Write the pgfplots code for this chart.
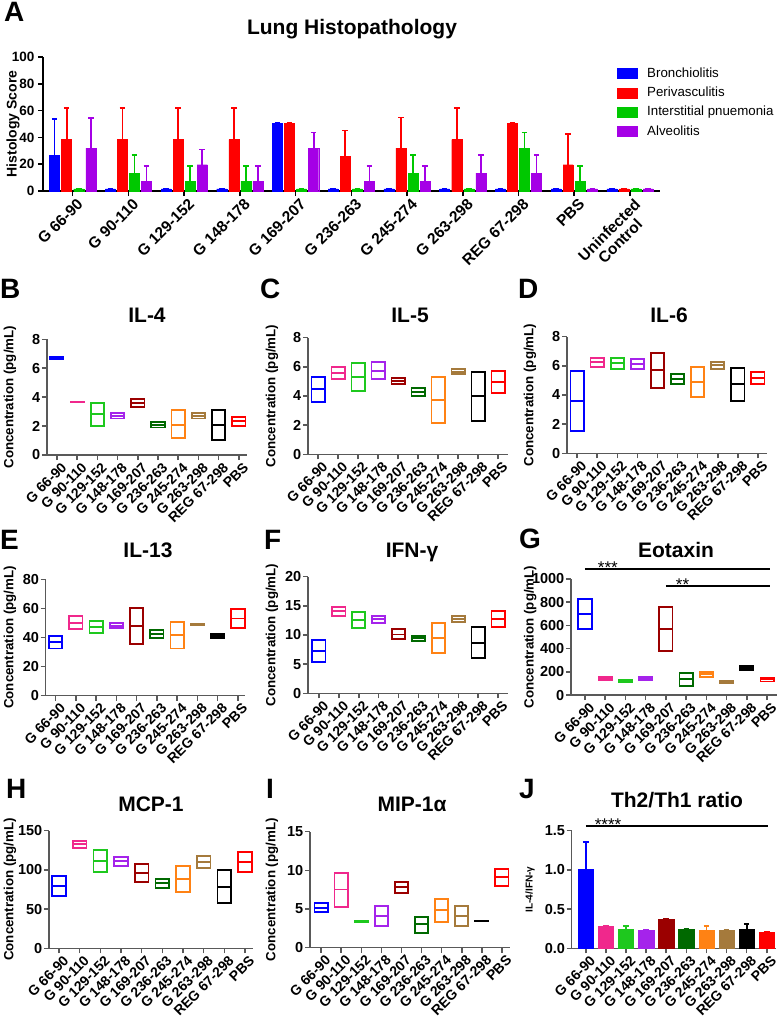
\documentclass[border=0pt]{standalone}
\usepackage{fontspec}
\setmainfont{Liberation Sans}
\usepackage{pgfplots}
\pgfplotsset{compat=1.18}

\newcommand{\fs}[1]{\fontsize{#1}{#1}\selectfont}

\definecolor{c0}{RGB}{0,0,255}
\definecolor{c1}{RGB}{240,40,140}
\definecolor{c2}{RGB}{30,200,30}
\definecolor{c3}{RGB}{165,35,235}
\definecolor{c4}{RGB}{155,0,0}
\definecolor{c5}{RGB}{0,105,0}
\definecolor{c6}{RGB}{255,130,20}
\definecolor{c7}{RGB}{165,122,60}
\definecolor{c8}{RGB}{0,0,0}
\definecolor{c9}{RGB}{255,0,0}
\definecolor{aB}{RGB}{0,0,255}
\definecolor{aP}{RGB}{255,0,0}
\definecolor{aI}{RGB}{0,200,0}
\definecolor{aA}{RGB}{165,0,230}

\pgfplotsset{
  aerr/.style={/pgfplots/error bars/y dir=plus, /pgfplots/error bars/y explicit,
    /pgfplots/error bars/error bar style={line width=1.8pt, draw=#1},
    /pgfplots/error bars/error mark options={rotate=90, line width=1.8pt, mark size=2.8pt, draw=#1}},
  sp/.style n args={6}{at={(#1pt,-#2pt)}, anchor=south west, width=#3pt, height=#4pt, xmin=#5, xmax=#6},
  cyto/.style={
    scale only axis,
    axis x line=bottom, axis y line=left,
    axis line style={-, line width=1.5pt, black!65},
    tick align=outside, major tick length=5pt,
    tick style={line width=1.5pt, black!65},
    ymin=0,
    xtick={0,...,9},
    xticklabels={G 66-90, G 90-110, G 129-152, G 148-178, G 169-207, G 236-263, G 245-274, G 263-298, REG 67-298, PBS},
    xticklabel style={xshift=3.5pt, rotate=45, anchor=north east, font=\bfseries\fs{14}, inner sep=1pt},
    yticklabel style={font=\bfseries\fs{14.5}, inner sep=1.5pt},
    /pgf/number format/assume math mode=true,
    /pgf/number format/1000 sep={},
    ylabel style={font=\bfseries\fs{13.3}, anchor=center},
    ylabel={Concentration (pg/mL)},
    clip=false,
  },
}

% floating bar (min to max, line at mean): colour, left, right, min, mean, max
\newcommand{\fb}[6]{%
  \addplot[draw=#1, line width=1.8pt, line join=miter]
    coordinates {(#2,#4) (#3,#4) (#3,#6) (#2,#6)} -- cycle;
  \addplot[draw=#1, line width=1.8pt] coordinates {(#2,#5) (#3,#5)};}

\begin{document}
\begin{tikzpicture}
\path[use as bounding box] (0pt,0pt) rectangle (779pt,-1019pt);

% ---------------- Panel A ----------------
\begin{axis}[at={(43pt,-191pt)}, anchor=south west, scale only axis,
  width=617pt, height=134pt,
  axis x line=bottom, axis y line=left,
  axis line style={-, line width=1.6pt, black},
  tick align=outside, major tick length=5pt,
  tick style={line width=1.6pt, black},
  xmin=-0.533, xmax=10.54, ymin=0, ymax=100, ytick={0,20,...,100},
  xtick={0,...,10},
  xticklabels={G 66-90, G 90-110, G 129-152, G 148-178, G 169-207, G 236-263, G 245-274, G 263-298, REG 67-298, PBS, {Uninfected\\Control}},
  xticklabel style={xshift=3.5pt, rotate=45, anchor=north east, align=center, font=\bfseries\fs{15.5}, inner sep=1pt},
  yticklabel style={font=\bfseries\fs{13.5}},
  /pgf/number format/assume math mode=true,
  ylabel={Histology Score},
  ylabel style={font=\bfseries\fs{14}, at={(axis description cs:-0.0486,0.5)}, anchor=center},
  legend image code/.code={\draw[#1, draw=none] (0pt,-5.5pt) rectangle (21pt,5.5pt);},
  legend style={at={(axis description cs:0.9303,0.925)}, anchor=north west,
    draw=none, fill=none, font=\fs{13.3}, row sep=6.3pt, inner sep=0pt,
    nodes={inner sep=0pt, text height=10pt, text depth=3pt},
    /tikz/every odd column/.append style={column sep=9pt}},
  legend cell align=left,
  clip=false]
\addplot[ybar, bar width=0.18, bar shift=0pt, fill=aB, draw=aB, aerr=aB] coordinates {
 (-0.325,26.7) +- (0,26.9) (0.675,1.5) +- (0,0) (1.675,1.5) +- (0,0) (2.675,1.5) +- (0,0)
 (3.675,50.5) +- (0,0) (4.675,1.5) +- (0,0) (5.675,1.5) +- (0,0) (6.675,1.5) +- (0,0)
 (7.675,1.5) +- (0,0) (8.675,1.5) +- (0,0) (9.675,1.5) +- (0,0)};
\addplot[ybar, bar width=0.18, bar shift=0pt, fill=aP, draw=aP, aerr=aP] coordinates {
 (-0.108,38.3) +- (0,23.7) (0.892,38.3) +- (0,23.7) (1.892,38.3) +- (0,23.7) (2.892,38.3) +- (0,23.7)
 (3.892,50.5) +- (0,0) (4.892,25.8) +- (0,19.4) (5.892,32.0) +- (0,22.8) (6.892,38.3) +- (0,23.7)
 (7.892,50.5) +- (0,0) (8.892,19.6) +- (0,22.8) (9.892,1.5) +- (0,0)};
\addplot[ybar, bar width=0.18, bar shift=0pt, fill=aI, draw=aI, aerr=aI] coordinates {
 (0.108,1.5) +- (0,0) (1.108,13.3) +- (0,13.3) (2.108,7.4) +- (0,11.5) (3.108,7.4) +- (0,11.5)
 (4.108,1.5) +- (0,0) (5.108,1.5) +- (0,0) (6.108,13.3) +- (0,13.3) (7.108,1.5) +- (0,0)
 (8.108,32.0) +- (0,11.7) (9.108,7.4) +- (0,11.5) (10.108,1.5) +- (0,0)};
\addplot[ybar, bar width=0.18, bar shift=0pt, fill=aA, draw=aA, aerr=aA] coordinates {
 (0.325,32.0) +- (0,22.6) (1.325,7.4) +- (0,11.5) (2.325,19.6) +- (0,11.4) (3.325,7.4) +- (0,11.5)
 (4.325,32.0) +- (0,11.7) (5.325,7.4) +- (0,11.5) (6.325,7.4) +- (0,11.5) (7.325,13.3) +- (0,13.3)
 (8.325,13.3) +- (0,13.3) (9.325,1.5) +- (0,0) (10.325,1.5) +- (0,0)};
\legend{Bronchiolitis, Perivasculitis, Interstitial pnuemonia, Alveolitis}
\end{axis}

% ---------------- Row 1 ----------------
\begin{axis}[cyto, sp={47}{455}{200}{115.7}{-0.49}{9.4}, ymax=8, ytick={0,2,...,8},
  ylabel style={at={(axis description cs:-0.185,0.5)}}]
\fb{c0}{-0.33}{0.33}{6.61}{6.69}{6.76}
\fb{c1}{0.67}{1.33}{3.63}{3.65}{3.67}
\fb{c2}{1.67}{2.33}{2.00}{2.81}{3.57}
\fb{c3}{2.67}{3.33}{2.53}{2.72}{2.88}
\fb{c4}{3.67}{4.33}{3.34}{3.59}{3.85}
\fb{c5}{4.67}{5.33}{1.90}{2.07}{2.26}
\fb{c6}{5.67}{6.33}{1.15}{2.10}{3.10}
\fb{c7}{6.67}{7.33}{2.52}{2.72}{2.93}
\fb{c8}{7.67}{8.33}{1.04}{2.07}{3.11}
\fb{c9}{8.67}{9.33}{2.03}{2.33}{2.63}
\end{axis}
\begin{axis}[cyto, sp={308}{454.3}{200}{116.6}{-0.5}{9.5}, ymax=8, ytick={0,2,...,8},
  ylabel style={at={(axis description cs:-0.18,0.5)}}]
\fb{c0}{-0.33}{0.33}{3.61}{4.48}{5.33}
\fb{c1}{0.67}{1.33}{5.17}{5.60}{6.01}
\fb{c2}{1.67}{2.33}{4.37}{5.33}{6.29}
\fb{c3}{2.67}{3.33}{5.14}{5.74}{6.31}
\fb{c4}{3.67}{4.33}{4.82}{5.05}{5.26}
\fb{c5}{4.67}{5.33}{4.02}{4.27}{4.53}
\fb{c6}{5.67}{6.33}{2.13}{3.73}{5.33}
\fb{c7}{6.67}{7.33}{5.51}{5.67}{5.83}
\fb{c8}{7.67}{8.33}{2.29}{4.00}{5.67}
\fb{c9}{8.67}{9.33}{4.18}{4.98}{5.71}
\end{axis}
\begin{axis}[cyto, sp={567}{453.3}{200}{116.6}{-0.5}{9.45}, ymax=8, ytick={0,2,...,8},
  ylabel style={at={(axis description cs:-0.185,0.5)}}]
\fb{c0}{-0.33}{0.33}{1.55}{3.61}{5.67}
\fb{c1}{0.67}{1.33}{5.90}{6.24}{6.56}
\fb{c2}{1.67}{2.33}{5.78}{6.17}{6.56}
\fb{c3}{2.67}{3.33}{5.78}{6.13}{6.45}
\fb{c4}{3.67}{4.33}{4.50}{5.71}{6.90}
\fb{c5}{4.67}{5.33}{4.75}{5.10}{5.42}
\fb{c6}{5.67}{6.33}{3.84}{4.89}{5.94}
\fb{c7}{6.67}{7.33}{5.78}{6.06}{6.29}
\fb{c8}{7.67}{8.33}{3.59}{4.73}{5.87}
\fb{c9}{8.67}{9.33}{4.73}{5.19}{5.60}
\end{axis}

% ---------------- Row 2 ----------------
\begin{axis}[cyto, sp={45.7}{695.7}{199.3}{116.4}{-0.49}{9.35}, ymax=80, ytick={0,20,...,80},
  ylabel style={at={(axis description cs:-0.179,0.5)}}]
\fb{c0}{-0.33}{0.33}{32.5}{36.7}{41.3}
\fb{c1}{0.67}{1.33}{45.6}{50.2}{54.8}
\fb{c2}{1.67}{2.33}{42.9}{47.0}{51.6}
\fb{c3}{2.67}{3.33}{46.3}{47.9}{49.7}
\fb{c4}{3.67}{4.33}{35.3}{47.9}{60.5}
\fb{c5}{4.67}{5.33}{39.4}{42.2}{45.2}
\fb{c6}{5.67}{6.33}{32.5}{41.7}{50.4}
\fb{c7}{6.67}{7.33}{48.3}{48.8}{49.3}
\fb{c8}{7.67}{8.33}{39.9}{41.3}{42.6}
\fb{c9}{8.67}{9.33}{46.3}{53.0}{59.4}
\end{axis}
\begin{axis}[cyto, sp={308}{693.3}{200}{116.6}{-0.55}{9.5}, ymax=20, ytick={0,5,...,20},
  ylabel style={at={(axis description cs:-0.18,0.5)}}]
\fb{c0}{-0.33}{0.33}{5.43}{7.26}{9.14}
\fb{c1}{0.67}{1.33}{13.31}{14.10}{14.86}
\fb{c2}{1.67}{2.33}{11.14}{12.60}{14.00}
\fb{c3}{2.67}{3.33}{12.00}{12.69}{13.26}
\fb{c4}{3.67}{4.33}{9.26}{10.10}{10.97}
\fb{c5}{4.67}{5.33}{9.03}{9.43}{9.83}
\fb{c6}{5.67}{6.33}{6.86}{9.43}{12.00}
\fb{c7}{6.67}{7.33}{12.17}{12.74}{13.26}
\fb{c8}{7.67}{8.33}{6.00}{8.69}{11.31}
\fb{c9}{8.67}{9.33}{11.43}{12.80}{14.11}
\end{axis}
\begin{axis}[cyto, sp={571}{695}{206}{116}{-0.69}{9.49}, ymax=1000, ytick={0,200,...,1000},
  ylabel style={at={(axis description cs:-0.198,0.5)}}]
\fb{c0}{-0.33}{0.33}{566}{698}{828}
\fb{c1}{0.67}{1.33}{128}{145}{158}
\fb{c2}{1.67}{2.33}{110}{118}{126}
\fb{c3}{2.67}{3.33}{130}{143}{155}
\fb{c4}{3.67}{4.33}{379}{569}{761}
\fb{c5}{4.67}{5.33}{80}{135}{187}
\fb{c6}{5.67}{6.33}{155}{178}{200}
\fb{c7}{6.67}{7.33}{103}{110}{118}
\fb{c8}{7.67}{8.33}{218}{236}{252}
\fb{c9}{8.67}{9.33}{117}{133}{150}
\draw[line width=1.2pt] (axis cs:0,1086) -- (axis cs:9.15,1086);
\node[anchor=base, font=\fs{17}] at (axis cs:1.13,1051) {***};
\draw[line width=1.2pt] (axis cs:4,940) -- (axis cs:9.15,940);
\node[anchor=base, font=\fs{17}] at (axis cs:4.82,905) {**};
\end{axis}

% ---------------- Row 3 ----------------
\begin{axis}[cyto, sp={49}{948.3}{204}{117.6}{-0.48}{9.39}, ymax=150, ytick={0,50,...,150},
  ylabel style={at={(axis description cs:-0.191,0.5)}}]
\fb{c0}{-0.33}{0.33}{67.1}{79.9}{92.6}
\fb{c1}{0.67}{1.33}{128.3}{132.6}{136.8}
\fb{c2}{1.67}{2.33}{97.7}{111.8}{125.4}
\fb{c3}{2.67}{3.33}{105.4}{111.3}{116.9}
\fb{c4}{3.67}{4.33}{85.0}{96.5}{107.1}
\fb{c5}{4.67}{5.33}{77.4}{82.9}{88.4}
\fb{c6}{5.67}{6.33}{72.2}{88.8}{105.4}
\fb{c7}{6.67}{7.33}{102.0}{109.6}{118.1}
\fb{c8}{7.67}{8.33}{57.4}{78.6}{99.9}
\fb{c9}{8.67}{9.33}{97.7}{109.6}{122.4}
\end{axis}
\begin{axis}[cyto, sp={310}{947.7}{200}{116}{-0.55}{9.4}, ymax=15, ytick={0,5,...,15},
  ylabel style={at={(axis description cs:-0.19,0.5)}}]
\fb{c0}{-0.33}{0.33}{4.57}{5.17}{5.82}
\fb{c1}{0.67}{1.33}{5.30}{7.54}{9.70}
\fb{c2}{1.67}{2.33}{3.25}{3.36}{3.47}
\fb{c3}{2.67}{3.33}{2.80}{4.14}{5.39}
\fb{c4}{3.67}{4.33}{7.11}{7.89}{8.53}
\fb{c5}{4.67}{5.33}{1.94}{3.06}{4.00}
\fb{c6}{5.67}{6.33}{3.28}{4.87}{6.29}
\fb{c7}{6.67}{7.33}{2.84}{4.14}{5.43}
\fb{c8}{7.67}{8.33}{3.43}{3.45}{3.47}
\fb{c9}{8.67}{9.33}{7.97}{9.18}{10.13}
\end{axis}
\begin{axis}[cyto, sp={571.7}{948.3}{204.3}{117.6}{-0.7}{9.46}, ymax=1.5, ytick={0,0.5,1,1.5},
  yticklabel style={/pgf/number format/.cd, fixed, fixed zerofill, precision=1},
  ylabel={IL-4/IFN-γ},
  ylabel style={font=\bfseries\fs{10}, at={(axis description cs:-0.204,0.5)}}]
\addplot[ybar, bar width=0.76, bar shift=0pt, fill=c0, draw=c0, aerr=c0] coordinates {(0,1.007) +- (0,0.35)};
\addplot[ybar, bar width=0.76, bar shift=0pt, fill=c1, draw=c1, aerr=c1] coordinates {(1,0.276) +- (0,0.01)};
\addplot[ybar, bar width=0.76, bar shift=0pt, fill=c2, draw=c2, aerr=c2] coordinates {(2,0.242) +- (0,0.04)};
\addplot[ybar, bar width=0.76, bar shift=0pt, fill=c3, draw=c3, aerr=c3] coordinates {(3,0.234) +- (0,0)};
\addplot[ybar, bar width=0.76, bar shift=0pt, fill=c4, draw=c4, aerr=c4] coordinates {(4,0.375) +- (0,0.005)};
\addplot[ybar, bar width=0.76, bar shift=0pt, fill=c5, draw=c5, aerr=c5] coordinates {(5,0.242) +- (0,0.005)};
\addplot[ybar, bar width=0.76, bar shift=0pt, fill=c6, draw=c6, aerr=c6] coordinates {(6,0.234) +- (0,0.05)};
\addplot[ybar, bar width=0.76, bar shift=0pt, fill=c7, draw=c7, aerr=c7] coordinates {(7,0.233) +- (0,0)};
\addplot[ybar, bar width=0.76, bar shift=0pt, fill=c8, draw=c8, aerr=c8] coordinates {(8,0.240) +- (0,0.07)};
\addplot[ybar, bar width=0.76, bar shift=0pt, fill=c9, draw=c9, aerr=c9] coordinates {(9,0.204) +- (0,0)};
\draw[line width=1.2pt] (axis cs:0,1.56) -- (axis cs:9.05,1.56);
\node[anchor=base, font=\fs{17}] at (axis cs:1.11,1.509) {****};
\end{axis}

% ---------------- Titles and panel letters ----------------
\begin{scope}[every node/.style={font=\bfseries\fs{21}, anchor=base, inner sep=0pt}]
\node at (352pt,-35pt) {Lung Histopathology};
\node at (147pt,-322pt) {IL-4};
\node at (410pt,-322pt) {IL-5};
\node at (669pt,-322pt) {IL-6};
\node at (148pt,-557pt) {IL-13};
\node at (412pt,-557pt) {IFN-γ};
\node at (676pt,-557pt) {Eotaxin};
\node at (151pt,-811pt) {MCP-1};
\node at (412pt,-811pt) {MIP-1α};
\node at (677pt,-807pt) {Th2/Th1 ratio};
\end{scope}
\begin{scope}[every node/.style={font=\bfseries\fs{28}, anchor=base west, inner sep=0pt}]
\node at (4pt,-22pt) {A};
\node at (0pt,-298pt) {B};
\node at (260pt,-298pt) {C};
\node at (518pt,-298pt) {D};
\node at (0pt,-549pt) {E};
\node at (264pt,-549pt) {F};
\node at (519pt,-548pt) {G};
\node at (6pt,-798pt) {H};
\node at (266pt,-798pt) {I};
\node at (519pt,-798pt) {J};
\end{scope}
\end{tikzpicture}
\end{document}
